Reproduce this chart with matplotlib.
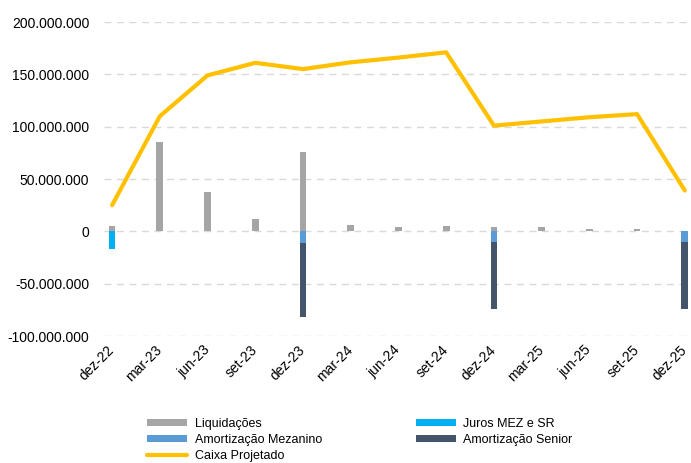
import matplotlib
matplotlib.use("Agg")
import matplotlib.pyplot as plt
import matplotlib.transforms as mtransforms
import numpy as np
from matplotlib.ticker import FuncFormatter

plt.rcParams['font.family'] = ['Liberation Sans', 'DejaVu Sans']

categories = ["dez-22", "mar-23", "jun-23", "set-23", "dez-23", "mar-24", "jun-24",
              "set-24", "dez-24", "mar-25", "jun-25", "set-25", "dez-25"]
liquidacoes = [5.0, 85.0, 38.0, 11.5, 75.5, 6.0, 4.0, 5.0, 4.5, 4.0, 2.5, 2.5, 0.0]
juros = [-17.0, 0, 0, 0, 0, 0, 0, 0, 0, 0, 0, 0, 0]
amort_mez = [0, 0, 0, 0, -11.0, 0, 0, 0, -10.0, 0, 0, 0, -10.0]
amort_senior = [0, 0, 0, 0, -71.0, 0, 0, 0, -64.0, 0, 0, 0, -64.0]
caixa = [25.0, 110.0, 149.0, 161.0, 155.0, 161.5, 166.0, 171.0, 101.0, 105.0, 109.0, 112.0, 39.0]

scale = 1e6
x = np.arange(len(categories))
liq = np.array(liquidacoes) * scale
jur = np.array(juros) * scale
mez = np.array(amort_mez) * scale
sen = np.array(amort_senior) * scale
cx = np.array(caixa) * scale

fig = plt.figure(figsize=(6.91, 4.63), dpi=100)
ax = fig.add_axes([104/691, 1 - 336/463, 1 - 104/691, (336 - 22)/463])

w = 0.14
b_liq = ax.bar(x, liq, w, color="#A5A5A5", label="Liquidações", zorder=2)
b_jur = ax.bar(x, jur, w, color="#00B0F0", label="Juros MEZ e SR", zorder=2)
b_mez = ax.bar(x, mez, w, bottom=jur, color="#5B9BD5", label="Amortização Mezanino", zorder=2)
b_sen = ax.bar(x, sen, w, bottom=jur + mez, color="#44546A", label="Amortização Senior", zorder=2)
l_cx, = ax.plot(x, cx, color="#FFC000", lw=3, label="Caixa Projetado", zorder=3,
                solid_capstyle="round")

ax.set_ylim(-100e6, 200e6)
ax.set_xlim(-0.17, 12.13)
ax.set_yticks(np.arange(-100e6, 200e6 + 1, 50e6))
ax.yaxis.set_major_formatter(FuncFormatter(lambda v, p: f"{v:,.0f}".replace(",", ".")))
ax.grid(axis="y", color="#D9D9D9", linestyle=(0, (5, 4)), lw=1, zorder=0)
for s in ax.spines.values():
    s.set_visible(False)
ax.tick_params(length=0, labelsize=10, colors="#000000")
ax.tick_params(axis="y", pad=10.5)
ax.set_xticks(x)
ax.set_xticklabels(categories, rotation=45, ha="right", rotation_mode="anchor")
ax.tick_params(axis="x", pad=5)
offset = mtransforms.ScaledTranslation(-5/100, 0, fig.dpi_scale_trans)
for lbl in ax.get_xticklabels():
    lbl.set_transform(lbl.get_transform() + offset)

handles = [b_liq, b_mez, l_cx, b_jur, b_sen]
labels = [h.get_label() for h in handles]
fig.legend(handles, labels, ncol=2, loc="center", bbox_to_anchor=(360/691, 1 - 440/463),
           frameon=False, fontsize=9, handlelength=3.2, handleheight=0.5,
           columnspacing=7.5, labelspacing=0.35, handletextpad=0.6)

fig.savefig("out.png", dpi=100)
